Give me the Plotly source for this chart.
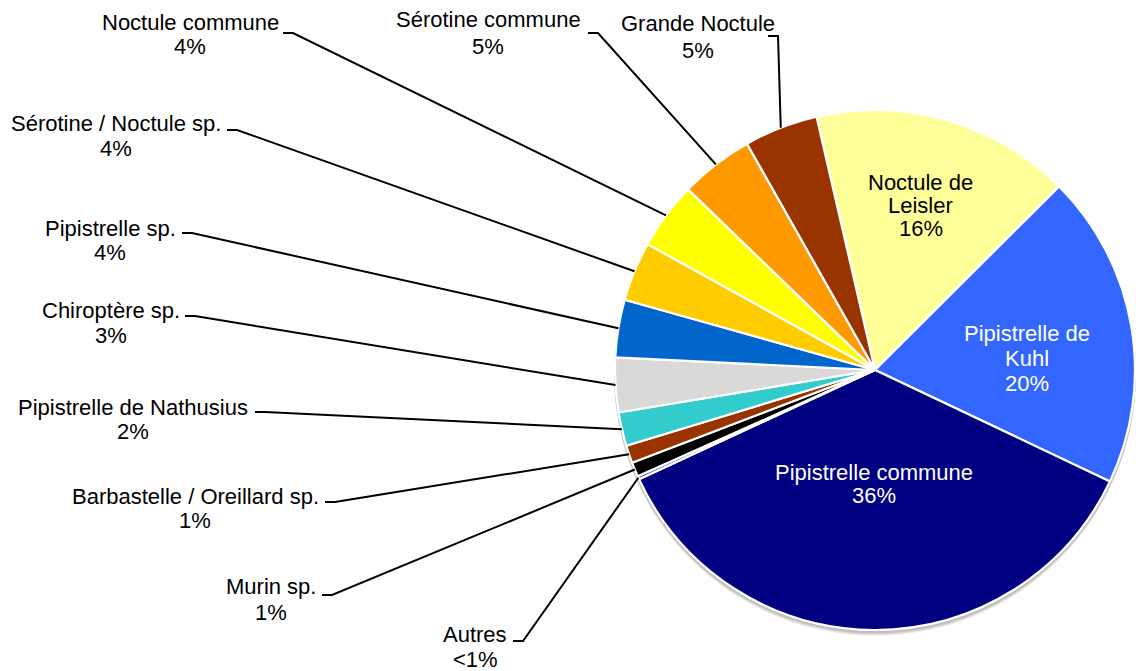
import math
import plotly.graph_objects as go

W, H = 1136, 671

# Species recorded and their share of contacts (%), clockwise from the top
species = ["Noctule de Leisler", "Pipistrelle de Kuhl", "Pipistrelle commune", "Autres",
           "Murin sp.", "Barbastelle / Oreillard sp.", "Pipistrelle de Nathusius",
           "Chiroptère sp.", "Pipistrelle sp.", "Sérotine / Noctule sp.",
           "Noctule commune", "Sérotine commune", "Grande Noctule"]
shares = [16.2, 19.6, 36.2, 0.2, 0.9, 1.1, 2.1, 3.4, 3.6, 3.7, 4.2, 4.6, 4.6]

slice_colors = ["#FFFF99", "#3366FF", "#000080", "#4A4ACF", "#000000", "#993300",
                "#33CCCC", "#D9D9D9", "#0066CC", "#FFCC00", "#FFFF00", "#FF9900",
                "#993300"]

# Pie geometry in pixels
CX, CY, R = 875, 370, 260
START_DEG = -13.0

FONT = "Liberation Sans, Arial, sans-serif"
FS = 22

# Labels drawn inside their slice: lines of text, centre x, line y's, colour
inside_layout = {
    "Noctule de Leisler": (["Noctule de", "Leisler"], 921, [182, 205, 228], "#000000"),
    "Pipistrelle de Kuhl": (["Pipistrelle de", "Kuhl"], 1027, [333, 358, 383], "#FFFFFF"),
    "Pipistrelle commune": (["Pipistrelle commune"], 874, [472, 495], "#FFFFFF"),
}

# Outside labels: centre x, name y, percent y, elbow start (x, y)
outside_layout = {
    "Noctule commune": (190, 22, 47, 283, 33),
    "Sérotine / Noctule sp.": (116, 123, 148, 227, 130),
    "Pipistrelle sp.": (110, 228, 252, 182, 233),
    "Chiroptère sp.": (111, 310, 335, 185, 316),
    "Pipistrelle de Nathusius": (133, 407, 431, 255, 412),
    "Barbastelle / Oreillard sp.": (195, 496, 520, 325, 502),
    "Murin sp.": (271, 586, 612, 322, 595),
    "Autres": (475, 634, 659, 513, 641),
    "Sérotine commune": (488, 20, 47, 588, 33),
    "Grande Noctule": (698, 24, 50, 768, 36),
}
ELBOW = 10


def px(x):
    return x / W


def py(y):
    return 1 - y / H


total = sum(shares)


def pct_text(v):
    r = round(v / total * 100)
    return "&lt;1%" if r == 0 else f"{r}%"


def pie_domain(cx, cy, r):
    return dict(x=[px(cx - r), px(cx + r)], y=[py(cy + r), py(cy - r)])


fig = go.Figure()

# soft drop shadow under the pie
for off, rad, op in [(5, 261, 0.05), (4, 261, 0.07), (3, 261, 0.08), (2, 261, 0.08)]:
    fig.add_trace(go.Pie(
        values=[1], labels=["ombre"], sort=False, textinfo="none", hoverinfo="skip",
        marker=dict(colors=[f"rgba(0,0,0,{op})"], line=dict(width=0)),
        domain=pie_domain(CX, CY + off, rad), showlegend=False,
    ))

fig.add_trace(go.Pie(
    labels=species, values=shares, sort=False, direction="clockwise",
    rotation=START_DEG, textinfo="none", hoverinfo="label+percent",
    marker=dict(colors=slice_colors, line=dict(color="#FFFFFF", width=2.2)),
    domain=pie_domain(CX, CY, R), showlegend=False,
))

annotations = []
shapes = []

# mid angle of each slice, clockwise from 12 o'clock
acc = 0.0
mid_angle = {}
for name, v in zip(species, shares):
    a0 = START_DEG + acc / total * 360
    acc += v
    a1 = START_DEG + acc / total * 360
    mid_angle[name] = (a0 + a1) / 2


def add_text(text, x, y, color="#000000"):
    annotations.append(dict(
        text=text, x=px(x), y=py(y), xref="paper", yref="paper",
        xanchor="center", yanchor="middle", showarrow=False,
        font=dict(family=FONT, size=FS, color=color),
    ))


for name, v in zip(species, shares):
    if name in inside_layout:
        lines, cx, ys, col = inside_layout[name]
        for t, y in zip(lines + [pct_text(v)], ys):
            add_text(t, cx, y, col)
    elif name in outside_layout:
        cx, ny, pyy, ex, ey = outside_layout[name]
        add_text(name, cx, ny)
        add_text(pct_text(v), cx, pyy)
        th = math.radians(mid_angle[name])
        tx = CX + R * math.sin(th)
        ty = CY - R * math.cos(th)
        path = (f"M {px(ex)},{py(ey)} L {px(ex + ELBOW)},{py(ey)} "
                f"L {px(tx)},{py(ty)}")
        shapes.append(dict(type="path", path=path, xref="paper", yref="paper",
                           line=dict(color="#000000", width=2)))

fig.update_layout(
    width=W, height=H,
    margin=dict(l=0, r=0, t=0, b=0),
    paper_bgcolor="#FFFFFF", plot_bgcolor="#FFFFFF",
    annotations=annotations, shapes=shapes,
    showlegend=False,
)

fig.write_html("out.html")
